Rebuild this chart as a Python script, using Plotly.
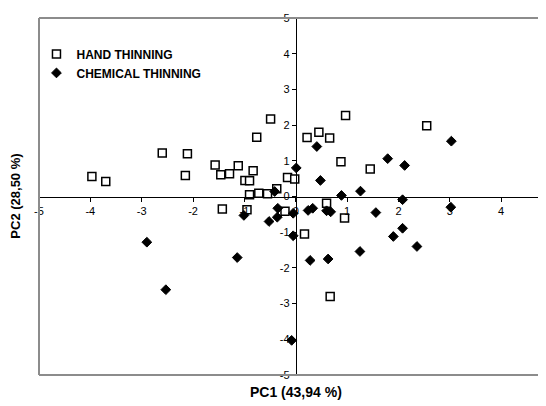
import plotly.graph_objects as go

# Hand thinning (open squares)
hand_pc1 = [-3.97, -3.70, -2.60, -2.11, -2.15, -1.57, -1.46, -1.29, -1.12, -0.99,
            -0.90, -0.83, -0.76, -0.49, -0.90, -0.72, -0.55, -0.37, -0.16, -0.02,
            0.22, 0.45, 0.66, 0.97, 0.88, 1.45, 2.55, -1.43, -0.95, -0.21,
            0.60, 0.95, 0.17, 0.67]
hand_pc2 = [0.56, 0.42, 1.22, 1.20, 0.59, 0.88, 0.61, 0.64, 0.86, 0.45,
            0.44, 0.72, 1.66, 2.17, 0.05, 0.09, 0.08, 0.22, 0.53, 0.49,
            1.65, 1.80, 1.64, 2.27, 0.97, 0.77, 1.98, -0.35, -0.37, -0.41,
            -0.19, -0.60, -1.05, -2.80]

# Chemical thinning (filled diamonds)
chem_pc1 = [-0.41, 0.01, 0.41, 0.48, 0.89, 1.26, 1.79, 2.12, 3.03, -1.01,
            -0.35, -0.36, -0.52, -0.05, -0.05, -2.90, -1.14, -2.53, -0.08, 2.08,
            3.02, 0.24, 0.33, 0.60, 0.68, 1.56, 2.08, 1.90, 2.36, 1.25,
            0.28, 0.63]
chem_pc2 = [0.14, 0.80, 1.40, 0.45, 0.03, 0.15, 1.06, 0.87, 1.55, -0.53,
            -0.33, -0.58, -0.70, -0.47, -1.10, -1.28, -1.71, -2.61, -4.03, -0.09,
            -0.30, -0.39, -0.33, -0.40, -0.43, -0.45, -0.89, -1.12, -1.40, -1.54,
            -1.79, -1.75]

tick_vals = [-5, -4, -3, -2, -1, 0, 1, 2, 3, 4, 5]
x_title = "PC1 (43,94 %)"
y_title = "PC2 (28,50 %)"

FONT = "Liberation Sans, Arial, sans-serif"

fig = go.Figure()
fig.add_trace(go.Scatter(
    x=hand_pc1, y=hand_pc2, mode="markers", name="<b>HAND THINNING</b>",
    marker=dict(symbol="square", size=8, color="white",
                line=dict(color="black", width=1.5)),
))
fig.add_trace(go.Scatter(
    x=chem_pc1, y=chem_pc2, mode="markers", name="<b>CHEMICAL THINNING</b>",
    marker=dict(symbol="diamond", size=7.5, color="black",
                line=dict(color="black", width=1)),
))

x_lo, x_hi = -5, 4.873
y_lo, y_hi = -5, 5

axis_common = dict(
    showgrid=False, zeroline=False, showline=True, automargin=False,
    linecolor="black", linewidth=1,
    ticks="outside", ticklen=4, tickcolor="black", tickwidth=1,
    tickvals=tick_vals, ticktext=[str(v) for v in tick_vals],
    tickfont=dict(size=11, family=FONT),
)

# page body adds an 8px offset; figure is sized to fill the rest of the window
fig.update_layout(
    width=538, height=398,
    margin=dict(l=31, r=0, t=10, b=31, autoexpand=False),
    paper_bgcolor="white", plot_bgcolor="white",
    font=dict(family=FONT, color="black", size=11),
    showlegend=True,
    legend=dict(x=-0.005, y=0.94, xanchor="left", yanchor="top",
                bgcolor="rgba(0,0,0,0)", font=dict(size=12, family=FONT),
                itemwidth=30, tracegroupgap=0),
    xaxis=dict(range=[x_lo, x_hi], domain=[0, 1], anchor="free",
               position=(0 - y_lo) / (y_hi - y_lo), **axis_common),
    yaxis=dict(range=[y_lo, y_hi], domain=[0, 1], anchor="free",
               position=(0 - x_lo) / (x_hi - x_lo), **axis_common),
)

# plot-area frame (left, top, bottom)
frame = dict(color="#8c8c8c", width=2)
fig.add_shape(type="line", xref="paper", yref="paper", x0=0, x1=0, y0=0, y1=1, line=frame)
fig.add_shape(type="line", xref="paper", yref="paper", x0=0, x1=1, y0=1, y1=1, line=frame)
fig.add_shape(type="line", xref="paper", yref="paper", x0=0, x1=1, y0=0, y1=0, line=frame)

fig.add_annotation(text="<b>" + x_title + "</b>", xref="x", yref="paper",
                   x=0, y=-0.048, xanchor="center", yanchor="middle",
                   showarrow=False, font=dict(size=14, family=FONT))
fig.add_annotation(text="<b>" + y_title + "</b>", xref="paper", yref="paper",
                   x=-0.047, y=0.5, xanchor="center", yanchor="middle",
                   textangle=-90, showarrow=False, font=dict(size=13, family=FONT))

fig.write_html("out.html")
